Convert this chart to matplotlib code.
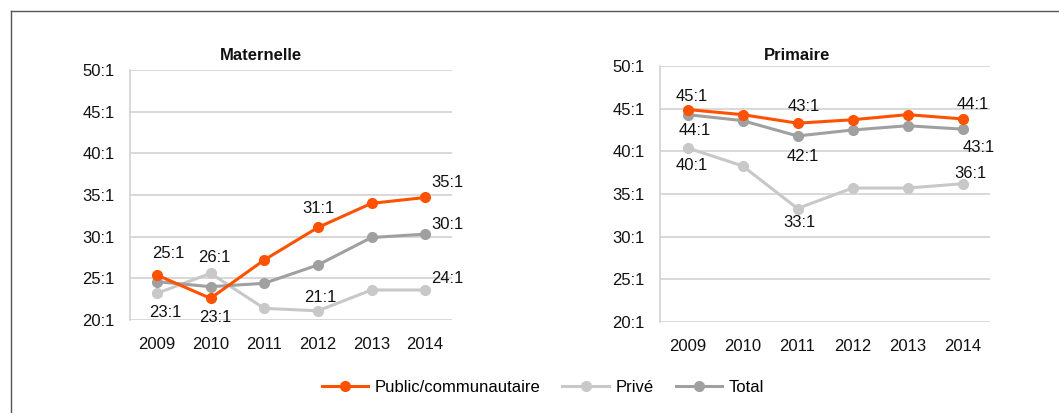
import matplotlib
matplotlib.use("Agg")
import matplotlib.pyplot as plt
from matplotlib.lines import Line2D
from matplotlib.ticker import FuncFormatter

plt.rcParams['font.family'] = ['Liberation Sans', 'DejaVu Sans']

years = ["2009", "2010", "2011", "2012", "2013", "2014"]
series_names = ["Public/communautaire", "Privé", "Total"]

# Ratio élèves:enseignant
mat_public = [25.4, 22.6, 27.2, 31.1, 34.0, 34.7]
mat_prive = [23.2, 25.6, 21.4, 21.1, 23.6, 23.6]
mat_total = [24.6, 24.0, 24.4, 26.6, 29.9, 30.3]

pri_public = [44.9, 44.3, 43.3, 43.7, 44.3, 43.8]
pri_prive = [40.4, 38.3, 33.3, 35.7, 35.7, 36.2]
pri_total = [44.3, 43.6, 41.8, 42.5, 43.0, 42.6]

colors = {"Public/communautaire": "#ff5200", "Privé": "#c8c8c8", "Total": "#a0a0a0"}

# Placement of value labels: (series, index) -> pixel offset from the point
mat_labels = {
    ("Public/communautaire", 0): (11, 22), ("Public/communautaire", 1): (5, -19),
    ("Public/communautaire", 3): (1, 19), ("Public/communautaire", 5): (22, 15),
    ("Privé", 0): (8, -19), ("Privé", 1): (4, 16), ("Privé", 3): (2, 13),
    ("Privé", 5): (22, 11), ("Total", 5): (22, 10),
}
pri_labels = {
    ("Public/communautaire", 0): (4, 13), ("Public/communautaire", 2): (6, 17),
    ("Public/communautaire", 5): (10, 14),
    ("Total", 0): (7, -16), ("Total", 2): (5, -21), ("Total", 5): (16, -18),
    ("Privé", 0): (4, -18), ("Privé", 2): (2, -14), ("Privé", 5): (8, 10),
}

FS = 12
W, H = 1059, 413
fig = plt.figure(figsize=(W / 100, H / 100), dpi=100)

# outer frame (top and left edges)
fig.add_artist(Line2D([11 / W, 1.0], [1 - 11 / H, 1 - 11 / H], color="#555555", lw=1.0))
fig.add_artist(Line2D([11 / W, 11 / W], [0, 1 - 11 / H], color="#555555", lw=1.0))


def panel(rect, title, title_x, data, labels):
    l, t, r, b = rect
    ax = fig.add_axes([l / W, 1 - b / H, (r - l) / W, (b - t) / H])
    x = list(range(len(years)))
    for name, vals in zip(series_names, data):
        ax.plot(x, vals, color=colors[name], lw=2.2, marker="o", ms=7,
                zorder=3 if name == "Public/communautaire" else 2)
    for (name, i), (dx, dy) in labels.items():
        v = data[series_names.index(name)][i]
        ax.annotate(f"{round(v)}:1", (i, v), xytext=(dx, dy), textcoords="offset pixels",
                    ha="center", va="center", fontsize=FS, color="#111111", zorder=5)
    ax.set_xlim(-0.5, 5.5)
    ax.set_ylim(20, 50)
    ax.set_yticks(range(20, 51, 5))
    ax.yaxis.set_major_formatter(FuncFormatter(lambda v, p: f"{int(v)}:1"))
    ax.set_xticks(x)
    ax.set_xticklabels(years)
    ax.tick_params(length=0, labelsize=FS, labelcolor="#111111")
    ax.tick_params(axis="y", pad=11)
    ax.tick_params(axis="x", pad=12)
    ax.grid(axis="y", color="#d2d2d2", lw=1.2)
    ax.set_axisbelow(True)
    for s in ["top", "right", "bottom"]:
        ax.spines[s].set_visible(False)
    ax.spines["left"].set_color("#d2d2d2")
    ax.spines["left"].set_linewidth(1.2)
    fig.text(title_x / W, 1 - 56 / H, title, ha="center", va="center",
             fontsize=FS, fontweight="bold", color="#111111")
    return ax


panel((130, 70, 452, 320), "Maternelle", 261, [mat_public, mat_prive, mat_total], mat_labels)
panel((660, 66, 990, 322), "Primaire", 797, [pri_public, pri_prive, pri_total], pri_labels)

handles = [Line2D([], [], color=colors[n], lw=2.2, marker="o", ms=7) for n in series_names]
fig.legend(handles, series_names, loc="center", bbox_to_anchor=(543 / W, 1 - 387 / H),
           ncol=3, frameon=False, fontsize=FS, handlelength=2.8, handletextpad=0.4,
           columnspacing=1.3)

fig.savefig("out.png", dpi=100)
